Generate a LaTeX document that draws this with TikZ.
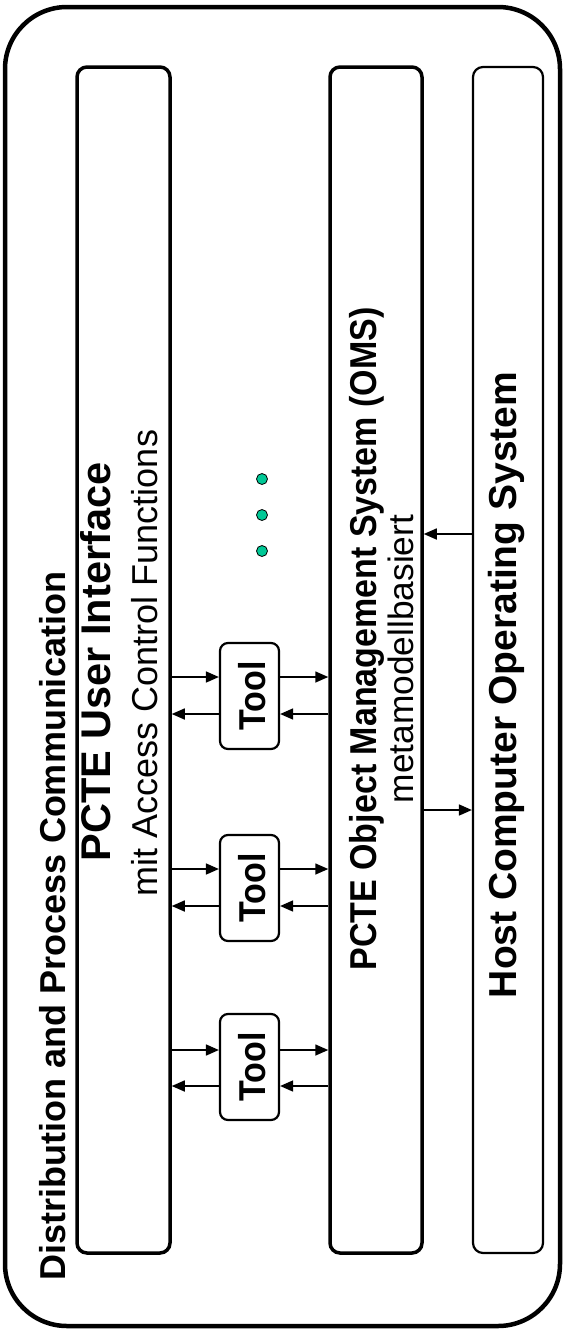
\documentclass[tikz,border=0pt]{standalone}
\usepackage{fontspec}
\setmainfont{Liberation Sans}
\usetikzlibrary{arrows.meta}
\definecolor{dotgreen}{RGB}{0,200,150}
\tikzset{
  outerbox/.style={draw, line width=4.5pt, rounded corners=62pt},
  layerbox/.style={draw, line width=3.5pt, rounded corners=10pt, inner sep=0pt},
  hostbox/.style={draw, line width=2.2pt, rounded corners=10pt, inner sep=0pt},
  toolbox/.style={draw, line width=2.2pt, rounded corners=8pt, inner sep=0pt, minimum width=59pt, minimum height=106pt},
  arr/.style={line width=1.6pt, -{Triangle[length=13pt,width=11pt]}},
  vtext/.style={rotate=90, anchor=base, inner sep=0pt},
  fb/.style={font=\fontsize{#1}{#1}\selectfont\bfseries},
  fr/.style={font=\fontsize{#1}{#1}\selectfont},
  dotnode/.style={circle, draw, line width=0.8pt, fill=dotgreen, minimum size=11pt, inner sep=0pt}
}
\begin{document}
\begin{tikzpicture}[x=1pt,y=-1pt]
\useasboundingbox (0,0) rectangle (564,1331);
\draw[outerbox] (5,7) rectangle (560,1326);
\node[layerbox, minimum width=93pt, minimum height=1186pt] (ui) at (123.5,660) {};
\node[layerbox, minimum width=92pt, minimum height=1186pt] (oms) at (376,660) {};
\node[hostbox, minimum width=70pt, minimum height=1186pt] (host) at (508,660) {};
\node[toolbox] (t1) at (249.5,696) {};
\node[toolbox] (t2) at (249.5,888) {};
\node[toolbox] (t3) at (249.5,1067) {};
% texts
\node[vtext, fb=36] (title) at (65,926) {Distribution and Process Communication};
\node[vtext, fb=41.5] (uih) at (110,662) {PCTE User Interface};
\node[vtext, fr=36] (uis) at (157,663) {mit Access Control Functions};
\node[vtext, fb=34, yscale=1.1] (omsh) at (376,639) {PCTE Object Management System (OMS)};
\node[vtext, fr=35.3] (omss) at (413,659) {metamodellbasiert};
\node[vtext, fb=39] (hosth) at (516,685) {Host Computer Operating System};
\node[vtext, fb=34, yscale=1.1] (tl1) at (265,696) {Tool};
\node[vtext, fb=34, yscale=1.1] (tl2) at (265,888) {Tool};
\node[vtext, fb=34, yscale=1.1] (tl3) at (265,1067) {Tool};
% dots
\node[dotnode] (d1) at (262,479) {};
\node[dotnode] (d2) at (262,515) {};
\node[dotnode] (d3) at (262,551) {};
% arrows
\foreach \t/\ya/\yb in {t1/677/714, t2/869/906, t3/1050/1086}{
  \draw[arr] (ui.east |- 0,\ya) -- (\t.west |- 0,\ya);
  \draw[arr] (\t.west |- 0,\yb) -- (ui.east |- 0,\yb);
  \draw[arr] (\t.east |- 0,\ya) -- (oms.west |- 0,\ya);
  \draw[arr] (oms.west |- 0,\yb) -- (\t.east |- 0,\yb);
}
\draw[arr] (host.west |- 0,534) -- (oms.east |- 0,534);
\draw[arr] (oms.east |- 0,810) -- (host.west |- 0,810);
\end{tikzpicture}
\end{document}
